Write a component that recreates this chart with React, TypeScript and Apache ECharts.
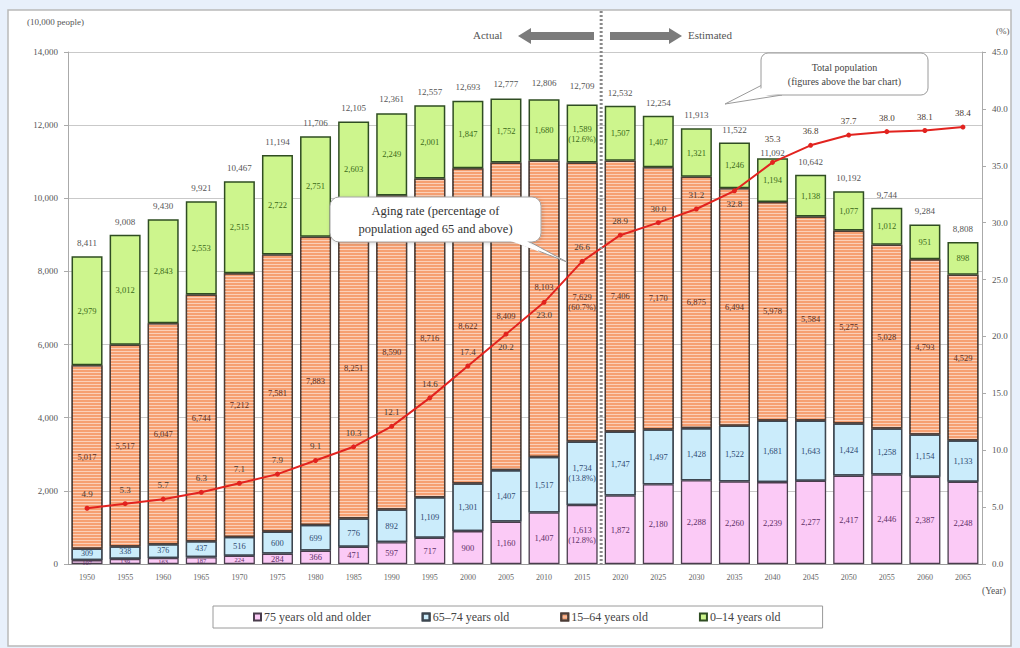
import React, { useEffect, useRef } from "react";
import * as echarts from "echarts";

const years = ["1950","1955","1960","1965","1970","1975","1980","1985","1990","1995","2000","2005","2010","2015","2020","2025","2030","2035","2040","2045","2050","2055","2060","2065"];
const totals = [8411, 9008, 9430, 9921, 10467, 11194, 11706, 12105, 12361, 12557, 12693, 12777, 12806, 12709, 12532, 12254, 11913, 11522, 11092, 10642, 10192, 9744, 9284, 8808];
const age0to14 = [2979, 3012, 2843, 2553, 2515, 2722, 2751, 2603, 2249, 2001, 1847, 1752, 1680, 1589, 1507, 1407, 1321, 1246, 1194, 1138, 1077, 1012, 951, 898];
const age15to64 = [5017, 5517, 6047, 6744, 7212, 7581, 7883, 8251, 8590, 8716, 8622, 8409, 8103, 7629, 7406, 7170, 6875, 6494, 5978, 5584, 5275, 5028, 4793, 4529];
const age65to74 = [309, 338, 376, 437, 516, 600, 699, 776, 892, 1109, 1301, 1407, 1517, 1734, 1747, 1497, 1428, 1522, 1681, 1643, 1424, 1258, 1154, 1133];
const age75plus = [107, 139, 163, 187, 224, 284, 366, 471, 597, 717, 900, 1160, 1407, 1613, 1872, 2180, 2288, 2260, 2239, 2277, 2417, 2446, 2387, 2248];
const agingRate = [4.9, 5.3, 5.7, 6.3, 7.1, 7.9, 9.1, 10.3, 12.1, 14.6, 17.4, 20.2, 23.0, 26.6, 28.9, 30.0, 31.2, 32.8, 35.3, 36.8, 37.7, 38.0, 38.1, 38.4];
// shares printed for 2015 only
const share2015: Record<string, string> = { "0-14": "12.6%", "15-64": "60.7%", "65-74": "13.8%", "75+": "12.8%" };

const leftTicks = { min: 0, max: 14000, interval: 2000 };
const rightTicks = { min: 0, max: 45, interval: 5 };

// label placement tweaks (index into years)
const rateLabelBelow = [11, 12, 17];
const rateLabelHigh = 18;
const totalLabelLow = 18;
const midLabelRaised = 12;

const FONT = "'Liberation Serif', 'DejaVu Serif', serif";
const fmt = (v: number) => v.toLocaleString("en-US");

function segLabel(key: string, color: string, size = 8.5) {
  return {
    show: true,
    position: "inside",
    color,
    fontSize: size,
    fontFamily: FONT,
    lineHeight: 10,
    formatter: (p: any) => (p.dataIndex === 13 ? `${fmt(p.value)}\n(${share2015[key]})` : fmt(p.value)),
  };
}

export default function App() {
  const ref = useRef<HTMLDivElement>(null);
  useEffect(() => {
    if (!ref.current) return;
    const chart = echarts.init(ref.current, null, { renderer: "svg" });
    const barW = 31;
    chart.setOption({
      animation: false,
      backgroundColor: "#e8f0fb",
      textStyle: { fontFamily: FONT },
      grid: { left: 68, right: 38, top: 52, bottom: 84 },
      legend: {
        data: ["75 years old and older", "65–74 years old", "15–64 years old", "0–14 years old"],
        left: 213,
        top: 606,
        padding: [5, 42, 5, 40],
        itemGap: 51,
        itemWidth: 7,
        itemHeight: 7,
        borderColor: "#9a9a9a",
        borderWidth: 1,
        backgroundColor: "#fff",
        textStyle: { fontSize: 12, color: "#444", fontFamily: FONT, padding: [0, 0, 0, -2] },
        icon: "rect",
      },
      xAxis: {
        type: "category",
        data: years,
        axisTick: { show: false },
        axisLine: { lineStyle: { color: "#999" } },
        axisLabel: { fontSize: 8, color: "#666", margin: 9, fontFamily: FONT },
      },
      yAxis: [
        {
          type: "value",
          ...leftTicks,
          axisLine: { show: true, lineStyle: { color: "#aaa" } },
          axisTick: { show: true, length: 4, lineStyle: { color: "#aaa" } },
          axisLabel: { fontSize: 9, color: "#555", margin: 10, formatter: (v: number) => fmt(v), fontFamily: FONT },
          splitLine: { lineStyle: { color: "#c9c9c9" } },
        },
        {
          type: "value",
          ...rightTicks,
          axisLine: { show: true, lineStyle: { color: "#aaa" } },
          axisTick: { show: true, length: 4, lineStyle: { color: "#aaa" } },
          axisLabel: { fontSize: 9, color: "#555", margin: 10, formatter: (v: number) => v.toFixed(1), fontFamily: FONT },
          splitLine: { show: false },
        },
      ],
      series: [
        {
          name: "75 years old and older",
          type: "bar",
          stack: "pop",
          barWidth: barW,
          data: age75plus.map((v) => (v < 250 ? { value: v, label: { fontSize: 6.5, lineHeight: 7 } } : v)),
          itemStyle: { color: "#fbcaf6", borderColor: "#4a3d4d", borderWidth: 1.3 },
          label: segLabel("75+", "#5e2f66"),
        },
        {
          name: "65–74 years old",
          type: "bar",
          stack: "pop",
          barWidth: barW,
          data: age65to74.map((v) => (v < 450 ? { value: v, label: { fontSize: 8, offset: [0, -1] } } : v)),
          itemStyle: {
            color: "#cbecfb",
            borderColor: "#3d4650",
            borderWidth: 1.3,
            decal: { symbol: "circle", symbolSize: 0.4, dashArrayX: [[1, 3]], dashArrayY: [1, 3], color: "rgba(90,130,170,0.6)", rotation: 0 },
          },
          label: segLabel("65-74", "#2f4a72"),
        },
        {
          name: "15–64 years old",
          type: "bar",
          stack: "pop",
          barWidth: barW,
          data: age15to64.map((v, i) => (i === midLabelRaised ? { value: v, label: { offset: [0, -22] } } : v)),
          itemStyle: {
            color: "#f6a072",
            borderColor: "#4d3d36",
            borderWidth: 1.3,
            decal: { symbol: "rect", symbolSize: 1, dashArrayX: [1, 0], dashArrayY: [1, 2], color: "rgba(255,255,255,0.5)", rotation: 0 },
          },
          label: segLabel("15-64", "#5a2e1c"),
        },
        {
          name: "0–14 years old",
          type: "bar",
          stack: "pop",
          barWidth: barW,
          data: age0to14,
          itemStyle: { color: "#cdf58d", borderColor: "#2f4d22", borderWidth: 1.5 },
          label: segLabel("0-14", "#3a6a18"),
        },
        {
          name: "Total",
          type: "line",
          data: totals.map((v, i) => (i === totalLabelLow ? { value: v, label: { distance: 0 } } : v)),
          symbol: "circle",
          symbolSize: 1,
          itemStyle: { color: "rgba(0,0,0,0)" },
          lineStyle: { width: 0, opacity: 0 },
          silent: true,
          label: { show: true, position: "top", distance: 8, fontSize: 9, color: "#555", fontFamily: FONT, formatter: (p: any) => fmt(p.value) },
          z: 5,
        },
        {
          name: "Aging rate",
          type: "line",
          yAxisIndex: 1,
          data: agingRate.map((v, i) =>
            rateLabelBelow.includes(i)
              ? { value: v, label: { position: "bottom", distance: 6 } }
              : i === rateLabelHigh
              ? { value: v, label: { distance: 16 } }
              : v
          ),
          symbol: "circle",
          symbolSize: 5,
          itemStyle: { color: "#e2231f" },
          lineStyle: { color: "#e2231f", width: 2 },
          label: { show: true, position: "top", distance: 7, fontSize: 9, color: "#4a3a30", fontFamily: FONT, formatter: (p: any) => p.value.toFixed(1) },
          z: 6,
        },
      ],
    });

    const p13 = chart.convertToPixel({ xAxisIndex: 0 }, 13) as number;
    const p14 = chart.convertToPixel({ xAxisIndex: 0 }, 14) as number;
    const sepX = (p13 + p14) / 2;
    const y0 = chart.convertToPixel({ yAxisIndex: 0 }, 0) as number;

    chart.setOption({
      graphic: [
        { type: "rect", z: -100, silent: true, shape: { x: 8, y: 10, width: 1003, height: 636 }, style: { fill: "#ffffff", stroke: "#b9b9b9", lineWidth: 1.5 } },
        { type: "text", x: 27, y: 17, style: { text: "(10,000 people)", fontSize: 9, fill: "#555", fontFamily: FONT } },
        { type: "text", x: 996, y: 26, style: { text: "(%)", fontSize: 9, fill: "#555", fontFamily: FONT } },
        { type: "text", x: 982, y: 586, style: { text: "(Year)", fontSize: 9.5, fill: "#555", fontFamily: FONT } },
        { type: "line", z: 50, shape: { x1: sepX, y1: 11, x2: sepX, y2: y0 }, style: { stroke: "#8a8a8a", lineWidth: 3, lineDash: [2, 2] } },
        { type: "text", x: 473, y: 29, style: { text: "Actual", fontSize: 11, fill: "#555", fontFamily: FONT } },
        {
          type: "polygon", shape: { points: [[518, 36], [531, 28], [531, 32], [594, 32], [594, 40], [531, 40], [531, 44]] },
          style: { fill: "#7b7b7b" },
        },
        {
          type: "polygon", shape: { points: [[610, 32], [669, 32], [669, 28], [682, 36], [669, 44], [669, 40], [610, 40]] },
          style: { fill: "#7b7b7b" },
        },
        { type: "text", x: 688, y: 29, style: { text: "Estimated", fontSize: 11, fill: "#555", fontFamily: FONT } },
        // Total population callout
        { type: "polygon", z: 100, shape: { points: [[764, 84], [725, 104], [782, 95]] }, style: { fill: "#fff", stroke: "#9a9a9a", lineWidth: 1 } },
        { type: "rect", z: 101, shape: { x: 761, y: 53, width: 167, height: 42, r: 7 }, style: { fill: "#fff", stroke: "#9a9a9a", lineWidth: 1 } },
        { type: "polygon", z: 102, shape: { points: [[766, 86], [740, 99], [778, 94]] }, style: { fill: "#fff" } },
        {
          type: "text", z: 103, x: 844.5, y: 74,
          style: { text: "Total population\n(figures above the bar chart)", fontSize: 10, lineHeight: 14, fill: "#444", align: "center", verticalAlign: "middle", fontFamily: FONT },
        },
        // Aging rate callout
        { type: "polygon", z: 100, shape: { points: [[500, 236], [567, 262], [530, 242]] }, style: { fill: "#fff", stroke: "#9a9a9a", lineWidth: 1 } },
        {
          type: "rect", z: 101, shape: { x: 330, y: 197, width: 211, height: 45, r: 9 },
          style: { fill: "#fff", stroke: "#a5a5a5", lineWidth: 1, shadowBlur: 4, shadowColor: "rgba(0,0,0,0.15)", shadowOffsetX: 1, shadowOffsetY: 1 },
        },
        { type: "polygon", z: 102, shape: { points: [[503, 238], [540, 252], [527, 241]] }, style: { fill: "#fff" } },
        {
          type: "text", z: 103, x: 435.5, y: 220,
          style: { text: "Aging rate (percentage of\npopulation aged 65 and above)", fontSize: 12.5, lineHeight: 18, fill: "#333", align: "center", verticalAlign: "middle", fontFamily: FONT },
        },
      ],
    });

    return () => chart.dispose();
  }, []);
  return <div ref={ref} style={{ position: "fixed", left: 0, top: 0, width: 1020, height: 648 }} />;
}
